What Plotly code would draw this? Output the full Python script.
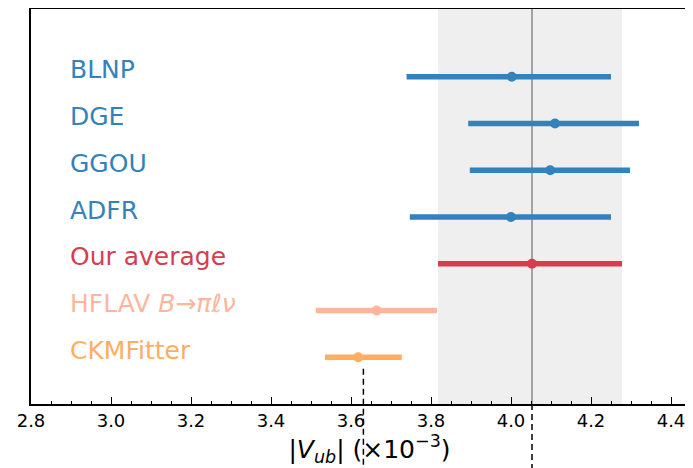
import plotly.graph_objects as go

labels = ["BLNP", "DGE", "GGOU", "ADFR", "Our average", "HFLAV <i>B</i>→<i>πℓν</i>", "CKMFitter"]
centers = [4.002, 4.11, 4.098, 4.0, 4.0525, 3.664, 3.618]
lows = [3.739, 3.893, 3.897, 3.747, 3.8175, 3.512, 3.535]
highs = [4.25, 4.32, 4.2975, 4.25, 4.2775, 3.815, 3.727]
colors = ["#3282bd", "#3282bd", "#3282bd", "#3282bd", "#d53e4f", "#fdb69c", "#fdae61"]
ypos = [7, 6, 5, 4, 3, 2, 1]
dashed_x = [3.631, 4.0525]

avg_i = 4
fig = go.Figure()

for i in range(len(labels)):
    fig.add_trace(go.Scatter(
        x=[centers[i]], y=[ypos[i]], mode="markers",
        marker=dict(color=colors[i], size=10),
        error_x=dict(type="data", symmetric=False,
                     array=[highs[i] - centers[i]],
                     arrayminus=[centers[i] - lows[i]],
                     thickness=5.5, width=0, color=colors[i]),
        showlegend=False, hoverinfo="skip"))
    fig.add_annotation(x=2.893, y=ypos[i], text=labels[i], showarrow=False,
                       xanchor="left", yanchor="middle", yshift=7,
                       font=dict(size=25, color=colors[i], family="DejaVu Sans"))

# band and central line
fig.add_shape(type="rect", xref="x", yref="paper", x0=lows[avg_i], x1=highs[avg_i],
              y0=0, y1=1, fillcolor="#efefef", line=dict(width=0), layer="below")
fig.add_shape(type="line", xref="x", yref="paper", x0=centers[avg_i], x1=centers[avg_i],
              y0=0, y1=1, line=dict(color="#8a8a8a", width=1.5), layer="below")

# dashed lines extending below the axis
fig.add_shape(type="line", xref="x", yref="paper", x0=dashed_x[0], x1=dashed_x[0],
              y0=0.089, y1=-0.17, line=dict(color="black", width=1.5, dash="6px,4px"))
fig.add_shape(type="line", xref="x", yref="paper", x0=dashed_x[1], x1=dashed_x[1],
              y0=0.0, y1=-0.17, line=dict(color="black", width=1.5, dash="6px,4px"))

fig.update_xaxes(range=[2.8, 4.4925], tickmode="array",
                 tickvals=[2.8, 3.0, 3.2, 3.4, 3.6, 3.8, 4.0, 4.2, 4.4],
                 ticktext=["2.8", "3.0", "3.2", "3.4", "3.6", "3.8", "4.0", "4.2", "4.4"],
                 ticks="inside", ticklen=7, tickwidth=1.3, tickcolor="black",
                 minor=dict(dtick=0.05, ticks="inside", ticklen=3.5, tickcolor="black", tickwidth=1),
                 showline=True, linecolor="black", linewidth=1.5, mirror=True,
                 showgrid=False, zeroline=False, automargin=False,
                 tickfont=dict(size=18, family="DejaVu Sans", color="black"),
                 title=dict(text="|<i>V</i><sub><i>ub</i></sub>| (×10<sup>−3</sup>)",
                            font=dict(size=25, family="DejaVu Sans", color="black"),
                            standoff=0))
fig.update_yaxes(range=[0, 8.45], showticklabels=False, ticks="", showgrid=False,
                 zeroline=False, showline=True, linecolor="black", linewidth=1.5,
                 mirror=False, automargin=False)

fig.update_layout(width=700, height=460, margin=dict(l=23, r=0, t=1, b=64, autoexpand=False),
                  plot_bgcolor="white", paper_bgcolor="white")

fig.write_html("out.html")
